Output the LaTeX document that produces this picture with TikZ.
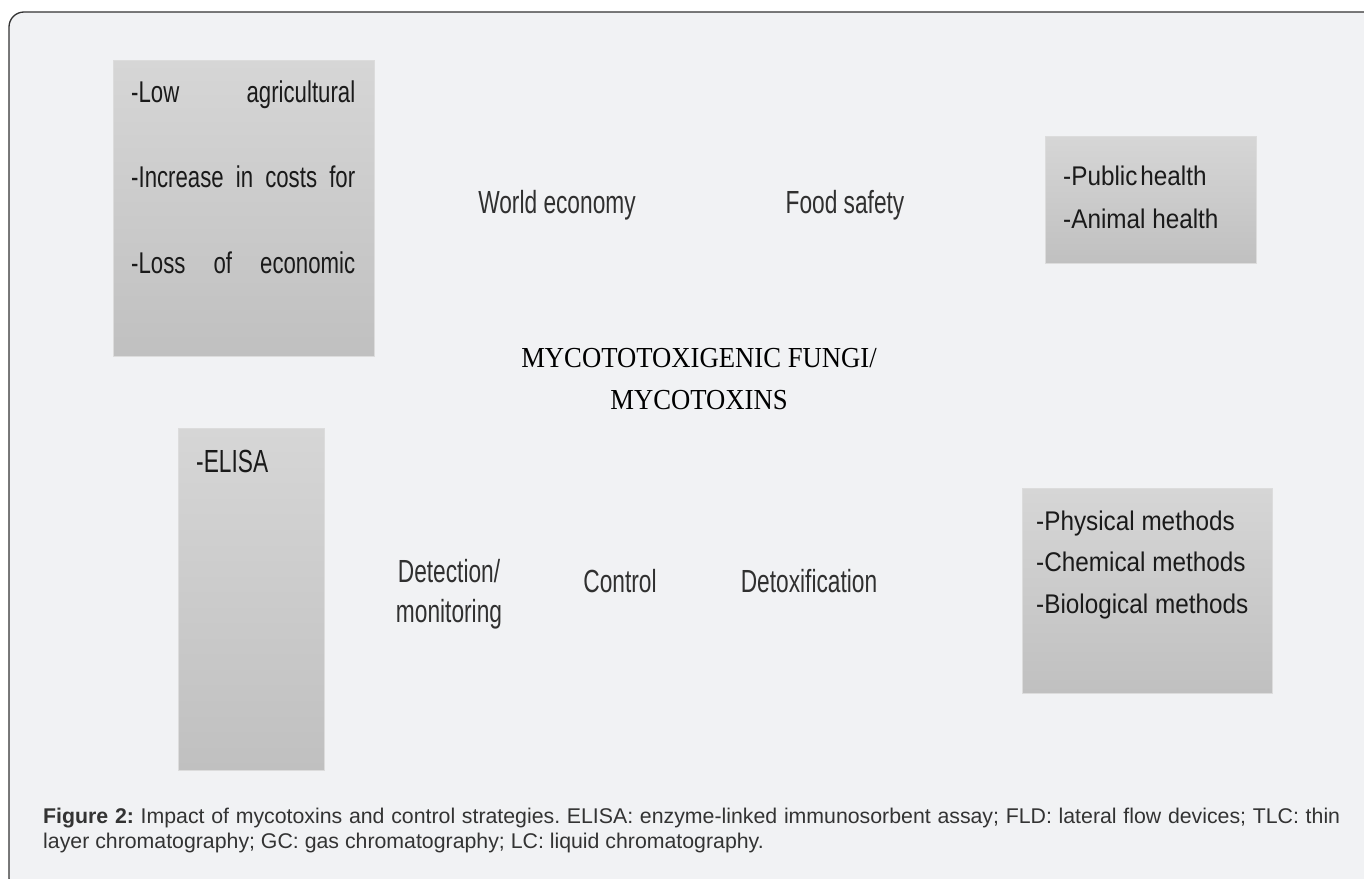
\documentclass[tikz,border=0pt]{standalone}
\usepackage{fontspec}
\setmainfont{Liberation Sans}
\newfontfamily\labfont[FakeStretch=0.71]{Liberation Sans}
\newfontfamily\boxafont[FakeStretch=0.74]{Liberation Sans}
\newfontfamily\boxbfont[FakeStretch=0.9]{Liberation Sans}
\newfontfamily\ttlfont[FakeStretch=0.92]{Liberation Serif}
\definecolor{bg}{HTML}{F1F2F4}
\definecolor{frame}{HTML}{333333}
\definecolor{boxtop}{HTML}{D6D6D6}
\definecolor{boxbot}{HTML}{C0C0C0}
\definecolor{boxedge}{HTML}{DCDCDC}
\definecolor{labtext}{HTML}{303030}
\definecolor{boxtext}{HTML}{1A1A1A}
\definecolor{captext}{HTML}{333333}
\frenchspacing
\begin{document}
\begin{tikzpicture}[x=1pt,y=-1pt,
  box/.style={draw=boxedge, line width=1pt, top color=boxtop, bottom color=boxbot,
    inner sep=0pt, anchor=north west},
  lab/.style={inner sep=0pt, anchor=base, text=labtext, font={\labfont\fontsize{32}{40}\selectfont}},
  boxa/.style={inner sep=0pt, anchor=base west, text=boxtext, font={\boxafont\fontsize{30}{85.5}\selectfont}},
  boxb/.style={inner sep=0pt, anchor=base west, text=boxtext},
  ttl/.style={inner sep=0pt, anchor=base, text=black, font={\ttlfont\fontsize{29}{42}\selectfont}},
  captionstyle/.style={inner sep=0pt, anchor=base west, text=captext, font={\fontsize{21.3}{25}\selectfont}}]
\useasboundingbox (0,0) rectangle (1364,878);
\clip (0,0) rectangle (1364,878);
\fill[white] (0,0) rectangle (1364,878);
\draw[rounded corners=15pt, line width=1.3pt, draw=frame, fill=bg] (9,12) rectangle (1385,893);

% boxes
\node[box, minimum width=261pt, minimum height=296pt] (b1) at (113,60) {};
\node[box, minimum width=211pt, minimum height=127pt] (b2) at (1045,136) {};
\node[box, minimum width=146pt, minimum height=342pt] (b3) at (178,428) {};
\node[box, minimum width=250pt, minimum height=205pt] (b4) at (1022,488) {};

% box texts
\node[boxa] (t1) at (131,102) {\vtop{\hbox to 224pt{-Low\hfill agricultural}\hbox to 224pt{-Increase in costs for}\hbox to 224pt{-Loss\hfill of\hfill economic}}};
\node[boxb, font={\boxbfont\fontsize{27}{43}\selectfont}] (t2) at (1063,185) {\vtop{\hbox{-Public\hspace{3pt}health}\hbox{-Animal health}}};
\node[lab, anchor=base west, text=boxtext] (t3) at (196,472) {-ELISA};
\node[boxb, font={\boxbfont\fontsize{27}{41.5}\selectfont}] (t4) at (1036,530) {\vtop{\hbox{-Physical methods}\hbox{-Chemical methods}\hbox{-Biological methods}}};

% labels
\node[lab] (we) at (557,213) {World economy};
\node[lab] (fs) at (845,213) {Food safety};
\node[lab] (dm) at (449,582) {\vtop{\halign{\hfil#\hfil\cr Detection/\cr monitoring\cr}}};
\node[lab] (co) at (620,592) {Control};
\node[lab] (dt) at (809,592) {Detoxification};

% title
\node[ttl] (title) at (699,367) {\vtop{\halign{\hfil#\hfil\cr MYCOTOTOXIGENIC FUNGI/\cr MYCOTOXINS\cr}}};

% caption
\node[captionstyle] (caption) at (43,823) {\vtop{\hbox to 1297pt{\textbf{Figure 2:} Impact of mycotoxins and control strategies. ELISA: enzyme-linked immunosorbent assay; FLD: lateral flow devices; TLC: thin}\hbox{layer chromatography; GC: gas chromatography; LC: liquid chromatography.}}};
\end{tikzpicture}
\end{document}
